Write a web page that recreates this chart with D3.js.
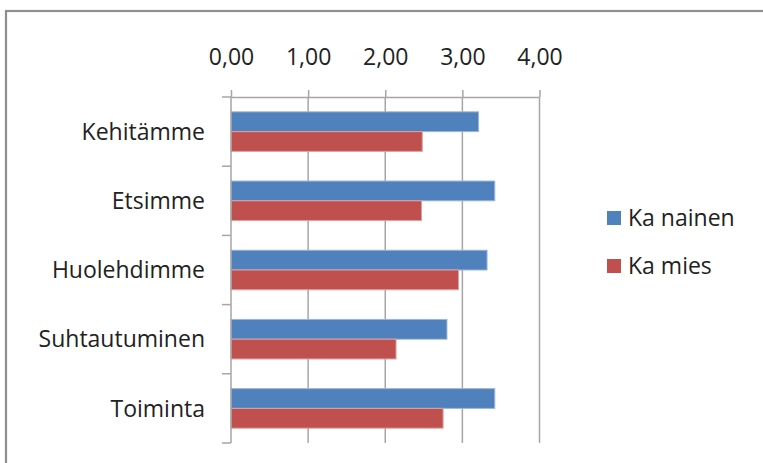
<!DOCTYPE html>
<html>
<head>
<meta charset="utf-8">
<script src="https://cdn.jsdelivr.net/npm/d3@7"></script>
<style>
  html, body { margin: 0; padding: 0; background: #fff; }
  svg { display: block; }
  text { font-family: "Open Sans", "Noto Sans", sans-serif; fill: #222; }
</style>
</head>
<body>
<svg id="chart" width="763" height="463"></svg>
<script>
// Keskiarvot sukupuolen mukaan
const categories = ["Kehitämme", "Etsimme", "Huolehdimme", "Suhtautuminen", "Toiminta"];
const seriesNames = ["Ka nainen", "Ka mies"];
const naisetValues = [3.21, 3.42, 3.32, 2.80, 3.42];
const miehetValues = [2.48, 2.47, 2.95, 2.14, 2.75];
const tickValues = [0, 1, 2, 3, 4];
const seriesColors = ["#4F81BD", "#C0504D"];
const seriesStrokes = ["#9DB5D8", "#DDA2A0"];

const rows = categories.map((c, i) => ({ cat: c, values: [naisetValues[i], miehetValues[i]] }));

const svg = d3.select("#chart");
const fontSize = 23;

// chart area frame
svg.append("rect")
  .attr("x", 6).attr("y", 11)
  .attr("width", 800).attr("height", 500)
  .attr("fill", "#fff")
  .attr("stroke", "#8E8E8E")
  .attr("stroke-width", 2.2);

const plot = { left: 231, right: 539.5, top: 97, bottom: 443 };

const x = d3.scaleLinear().domain([0, 4]).range([plot.left, plot.right]);
const y = d3.scaleBand().domain(categories).range([plot.top, plot.bottom]).padding(0);
const ySub = d3.scaleBand().domain(d3.range(seriesNames.length))
  .range([0, y.bandwidth()]).paddingInner(0).paddingOuter(0.75);

// vertical gridlines
svg.append("g")
  .selectAll("line")
  .data(tickValues.slice(1))
  .join("line")
  .attr("x1", d => x(d)).attr("x2", d => x(d))
  .attr("y1", plot.top).attr("y2", plot.bottom)
  .attr("stroke", "#A6A6A6")
  .attr("stroke-width", 1.5);

// value axis along the top
const xAxis = d3.axisTop(x)
  .tickValues(tickValues)
  .tickFormat(d => d3.format(".2f")(d).replace(".", ","))
  .tickSize(7)
  .tickSizeOuter(0)
  .tickPadding(25);

const gx = svg.append("g")
  .attr("transform", `translate(0,${plot.top})`)
  .call(xAxis);
gx.select(".domain").attr("stroke", "#A6A6A6").attr("stroke-width", 1.5);
gx.selectAll(".tick line").attr("stroke", "#A6A6A6").attr("stroke-width", 1.5);
gx.selectAll(".tick text")
  .attr("font-size", fontSize)
  .attr("font-family", "'Open Sans', sans-serif")
  .attr("fill", "#222");

// bars
const groups = svg.append("g")
  .selectAll("g")
  .data(rows)
  .join("g")
  .attr("transform", d => `translate(0,${y(d.cat)})`);

groups.selectAll("rect")
  .data(d => d.values.map((v, i) => ({ v, i })))
  .join("rect")
  .attr("x", x(0))
  .attr("y", d => ySub(d.i))
  .attr("width", d => x(d.v) - x(0))
  .attr("height", ySub.bandwidth())
  .attr("fill", d => seriesColors[d.i])
  .attr("stroke", d => seriesStrokes[d.i])
  .attr("stroke-width", 1);

// category axis on the left
const catAxis = svg.append("g");
catAxis.append("line")
  .attr("x1", plot.left).attr("x2", plot.left)
  .attr("y1", plot.top).attr("y2", plot.bottom)
  .attr("stroke", "#A6A6A6").attr("stroke-width", 1.5);

const boundaries = categories.map(c => y(c)).concat([y(categories[categories.length - 1]) + y.bandwidth()]);
catAxis.selectAll("line.cat-tick")
  .data(boundaries)
  .join("line")
  .attr("class", "cat-tick")
  .attr("x1", plot.left - 9).attr("x2", plot.left)
  .attr("y1", d => d).attr("y2", d => d)
  .attr("stroke", "#A6A6A6").attr("stroke-width", 1.5);

catAxis.selectAll("text")
  .data(categories)
  .join("text")
  .attr("x", 205)
  .attr("y", d => y(d) + y.bandwidth() / 2)
  .attr("dy", "0.36em")
  .attr("text-anchor", "end")
  .attr("font-size", fontSize)
  .text(d => d);

// legend
const legend = svg.append("g").attr("transform", "translate(607,0)");
const legendY = [218, 266];
const items = legend.selectAll("g")
  .data(seriesNames)
  .join("g")
  .attr("transform", (d, i) => `translate(0,${legendY[i]})`);
items.append("rect")
  .attr("x", 0).attr("y", -7)
  .attr("width", 14).attr("height", 14)
  .attr("fill", (d, i) => seriesColors[i]);
items.append("text")
  .attr("x", 21)
  .attr("y", 0)
  .attr("dy", "0.36em")
  .attr("font-size", fontSize)
  .text(d => d);
</script>
</body>
</html>
